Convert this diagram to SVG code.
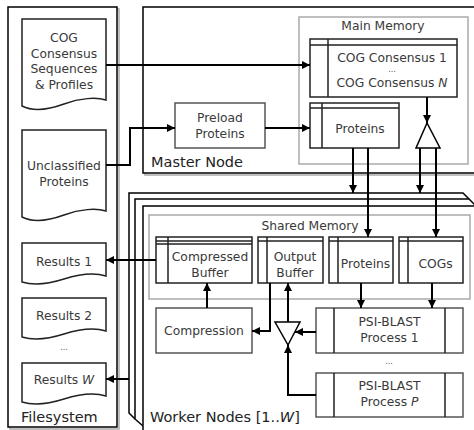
<svg xmlns="http://www.w3.org/2000/svg" width="474" height="430" viewBox="0 0 474 430">
<defs>
<marker id="ah" viewBox="0 0 10 10" refX="10" refY="5" markerWidth="8" markerHeight="8" markerUnits="userSpaceOnUse" orient="auto">
<path d="M0,0 L10,5 L0,10 z" fill="#000"/>
</marker>
</defs>
<style>
.t{font-family:"DejaVu Sans",Verdana,sans-serif;font-size:12.3px;fill:#3a3a3a;text-anchor:middle}
.dots{font-family:"DejaVu Sans",Verdana,sans-serif;font-size:8px;fill:#555;text-anchor:middle}
.big{font-family:"DejaVu Sans",Verdana,sans-serif;font-size:14.5px;fill:#222}
.box{fill:#fff;stroke:#000;stroke-width:1.5}
.sh{fill:none;stroke:#aaa;stroke-width:1.5}
.mem{fill:#fff;stroke:#aaa;stroke-width:1.5}
.doc{fill:#fff;stroke:#222;stroke-width:1.5}
.proc{fill:#fff;stroke:#555;stroke-width:1.5}
.rec{fill:#fff;stroke:#222;stroke-width:1.5}
.in{fill:none;stroke:#222;stroke-width:1.5}
.ca{fill:none;stroke:#000;stroke-width:2;marker-end:url(#ah)}
.tri{fill:#fff;stroke:#000;stroke-width:1.5}
</style>

<g id="filesystem">
<rect x="10" y="9" width="109" height="420" class="sh"/>
<rect x="8" y="7" width="109" height="420" class="box"/>
<text x="21" y="422" class="big">Filesystem</text>
</g>

<g id="master-node">
<rect x="145" y="9" width="340" height="166" class="sh"/>
<rect x="143" y="7" width="340" height="166" class="box"/>
<text x="151" y="167" class="big">Master Node</text>
</g>

<g id="worker-nodes">
<path d="M135,419 L129,413 V193 H463 L469,199" fill="#fff" stroke="#000" stroke-width="1.5"/>
<path d="M143,426 L135,419 V199 H469 L475,205" fill="#fff" stroke="#000" stroke-width="1.5"/>
<rect x="143" y="206" width="345" height="240" class="box"/>
<text x="150" y="422" class="big">Worker Nodes [1..<tspan font-style="italic">W</tspan>]</text>
</g>

<g id="cog-doc">
<path d="M22,19 H106 V100 C96,97 80,98 64,104 C45,111 32,111 22,106 Z" class="doc"/>
<text class="t"><tspan x="64" y="41.5">COG</tspan><tspan x="64" y="57.5">Consensus</tspan><tspan x="64" y="73">Sequences</tspan><tspan x="64" y="88.5">&amp; Profiles</tspan></text>
</g>

<g id="unclassified-doc">
<path d="M22,130 H106 V211 C96,208 80,209 64,215 C45,222 32,222 22,217 Z" class="doc"/>
<text class="t"><tspan x="64" y="169.5">Unclassified</tspan><tspan x="64" y="185.5">Proteins</tspan></text>
</g>

<g id="results-1">
<path d="M22,243 H106 V276 C96,273 80,274 64,279 C45,285 32,285 22,282 Z" class="doc"/>
<text x="64" y="265.5" class="t">Results 1</text>
</g>
<g id="results-2">
<path d="M22,298 H106 V331 C96,328 80,329 64,334 C45,340 32,340 22,337 Z" class="doc"/>
<text x="64" y="320" class="t">Results 2</text>
</g>
<text x="64" y="350" class="dots">...</text>
<g id="results-w">
<path d="M22,363 H106 V396 C96,393 80,394 64,399 C45,405 32,405 22,402 Z" class="doc"/>
<text x="64" y="384" class="t">Results <tspan font-style="italic">W</tspan></text>
</g>

<g id="preload-proteins">
<rect x="175" y="103" width="90" height="45" class="proc"/>
<text class="t"><tspan x="220" y="121.5">Preload</tspan><tspan x="220" y="137.5">Proteins</tspan></text>
</g>

<g id="main-memory">
<rect x="299" y="17" width="169" height="147" class="mem"/>
<text x="383" y="29.5" class="t">Main Memory</text>
</g>

<g id="cog-consensus">
<rect x="310" y="39" width="147" height="58" class="rec"/>
<path d="M328,39 V97 M310,45 H457" class="in"/>
<text x="392" y="62" class="t" font-size="11.8">COG Consensus 1</text>
<text x="392" y="72" class="dots">...</text>
<text x="392" y="86.5" class="t" font-size="11.8">COG Consensus <tspan font-style="italic">N</tspan></text>
</g>

<g id="master-proteins">
<rect x="310" y="103" width="89" height="45" class="rec"/>
<path d="M322,103 V148 M310,108 H399" class="in"/>
<text x="360" y="132.5" class="t">Proteins</text>
</g>

<g id="master-split">
<polygon points="427,123 416,148 440,148" class="tri"/>
</g>

<g id="shared-memory">
<rect x="149" y="215" width="321" height="84" class="mem"/>
<text x="310" y="229.5" class="t">Shared Memory</text>
</g>

<g id="compressed-buffer">
<rect x="156" y="237" width="96" height="46" class="rec"/>
<path d="M168,237 V283 M156,241 H252 M156,244 H252" class="in"/>
<text class="t"><tspan x="210" y="260.5">Compressed</tspan><tspan x="210" y="276.5">Buffer</tspan></text>
</g>

<g id="output-buffer">
<rect x="258" y="237" width="65" height="46" class="rec"/>
<path d="M267,237 V283 M258,241 H323" class="in"/>
<text class="t"><tspan x="295" y="260.5">Output</tspan><tspan x="295" y="276.5">Buffer</tspan></text>
</g>

<g id="worker-proteins">
<rect x="329" y="237" width="64" height="46" class="rec"/>
<path d="M338,237 V283 M329,241 H393" class="in"/>
<text x="365.5" y="267.5" class="t">Proteins</text>
</g>

<g id="worker-cogs">
<rect x="399" y="237" width="64" height="46" class="rec"/>
<path d="M408,237 V283 M399,241 H463" class="in"/>
<text x="435.5" y="267.5" class="t">COGs</text>
</g>

<g id="compression">
<rect x="156" y="308" width="96" height="45" class="proc"/>
<text x="204" y="334.5" class="t">Compression</text>
</g>

<g id="psi-blast-1">
<rect x="316" y="308" width="147" height="45" class="proc"/>
<path d="M334,308 V353 M445,308 V353" class="in"/>
<text class="t"><tspan x="389.5" y="326">PSI-BLAST</tspan><tspan x="389.5" y="341.5">Process 1</tspan></text>
</g>
<text x="389" y="364" class="dots">...</text>
<g id="psi-blast-p">
<rect x="316" y="373" width="147" height="44" class="proc"/>
<path d="M334,373 V417 M445,373 V417" class="in"/>
<text class="t"><tspan x="389.5" y="390">PSI-BLAST</tspan><tspan x="389.5" y="405.5">Process <tspan font-style="italic">P</tspan></tspan></text>
</g>

<g id="worker-merge">
<polygon points="275,322 300,322 288,345" class="tri"/>
</g>

<g id="connectors">
<path d="M106,65 H310" class="ca"/>
<path d="M106,165 H130 V128 H175" class="ca"/>
<path d="M265,128 H310" class="ca"/>
<path d="M427,97 V123" class="ca"/>
<path d="M420,148 V193" class="ca"/>
<path d="M436,148 V237" class="ca"/>
<path d="M353,148 V193" class="ca"/>
<path d="M368,148 V237" class="ca"/>
<path d="M361,283 V308" class="ca"/>
<path d="M432,283 V308" class="ca"/>
<path d="M316,332 H295" class="ca"/>
<path d="M316,395 H288 V345" class="ca"/>
<path d="M288,322 V283" class="ca"/>
<path d="M270,283 V331 H252" class="ca"/>
<path d="M207,308 V283" class="ca"/>
<path d="M156,260 H106" class="ca"/>
<path d="M129,379 H106" class="ca"/>
</g>
</svg>
